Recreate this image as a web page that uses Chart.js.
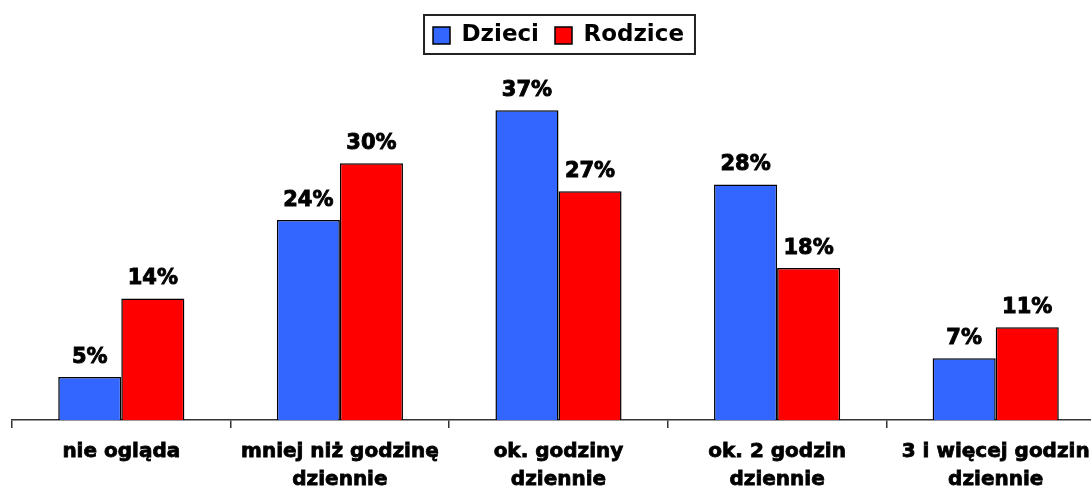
<!DOCTYPE html>
<html>
<head>
<meta charset="utf-8">
<script src="https://cdn.jsdelivr.net/npm/chart.js@4/dist/chart.umd.min.js"></script>
<style>
html,body{margin:0;padding:0;background:#fff;overflow:hidden;width:1091px;height:490px;}
#wrap{position:absolute;left:0;top:0;width:1105px;height:504px;}
</style>
</head>
<body>
<div id="wrap"><canvas id="c"></canvas></div>
<script>
const categories = [["nie ogląda"], ["mniej niż godzinę", "dziennie"], ["ok. godziny", "dziennie"], ["ok. 2 godzin", "dziennie"], ["3 i więcej godzin", "dziennie"]];
const seriesNames = ["Dzieci", "Rodzice"];
const dzieci = [5.1, 23.7, 36.7, 27.9, 7.3];
const rodzice = [14.4, 30.4, 27.1, 18.0, 11.0];
const yMax = 43;

const FONT = "'DejaVu Sans', Verdana, sans-serif";

const valueLabels = {
  id: 'valueLabels',
  afterDatasetsDraw(chart) {
    const ctx = chart.ctx;
    ctx.save();
    ctx.font = "bold 21px " + FONT;
    ctx.fillStyle = '#000';
    ctx.strokeStyle = '#000';
    ctx.lineWidth = 0.9;
    ctx.textAlign = 'center';
    ctx.textBaseline = 'alphabetic';
    chart.data.datasets.forEach((ds, i) => {
      const meta = chart.getDatasetMeta(i);
      meta.data.forEach((bar, j) => {
        const t = Math.round(ds.data[j]) + '%';
        ctx.fillText(t, bar.x, bar.y - 14);
        ctx.strokeText(t, bar.x, bar.y - 14);
      });
    });
    ctx.restore();
  }
};

const legendBorder = {
  id: 'legendBorder',
  afterDraw(chart) {
    const lg = chart.legend;
    if (!lg || !lg.legendHitBoxes || !lg.legendHitBoxes.length) return;
    let l = Infinity, r = -Infinity, t = Infinity, b = -Infinity;
    lg.legendHitBoxes.forEach(h => {
      l = Math.min(l, h.left); r = Math.max(r, h.left + h.width);
      t = Math.min(t, h.top); b = Math.max(b, h.top + h.height);
    });
    const ctx = chart.ctx;
    ctx.save();
    ctx.strokeStyle = '#222';
    ctx.lineWidth = 2;
    ctx.strokeRect(l - 9, t - 9, (r - l) + 20, (b - t) + 16);
    ctx.restore();
  }
};

new Chart(document.getElementById('c'), {
  type: 'bar',
  data: {
    labels: categories,
    datasets: [
      { label: seriesNames[0], data: dzieci, backgroundColor: '#3366FF', borderColor: '#000', borderWidth: 1.5 },
      { label: seriesNames[1], data: rodzice, backgroundColor: '#FF0000', borderColor: '#000', borderWidth: 1.5 }
    ]
  },
  options: {
    responsive: true,
    maintainAspectRatio: false,
    animation: false,
    devicePixelRatio: 1,
    layout: { padding: { left: 12, right: 0, top: 8, bottom: 0 } },
    datasets: { bar: { categoryPercentage: 0.577, barPercentage: 1.0 } },
    plugins: {
      legend: {
        display: true,
        position: 'top',
        labels: {
          font: { family: FONT, size: 23, weight: 'bold' },
          color: '#000',
          boxWidth: 17,
          boxHeight: 17,
          padding: 16
        }
      },
      tooltip: { enabled: false }
    },
    scales: {
      x: {
        grid: { display: true, drawOnChartArea: false, drawTicks: true, tickLength: 8, color: '#333', lineWidth: 1.5, offset: true },
        border: { display: true, color: '#333', width: 1.5 },
        ticks: {
          font: { family: FONT, size: 20, weight: 'bold', lineHeight: 1.4 },
          color: '#000',
          textStrokeColor: '#000',
          textStrokeWidth: 0.8,
          padding: 10,
          maxRotation: 0,
          autoSkip: false
        }
      },
      y: {
        display: false,
        min: 0,
        max: yMax
      }
    }
  },
  plugins: [valueLabels, legendBorder]
});
</script>
</body>
</html>
